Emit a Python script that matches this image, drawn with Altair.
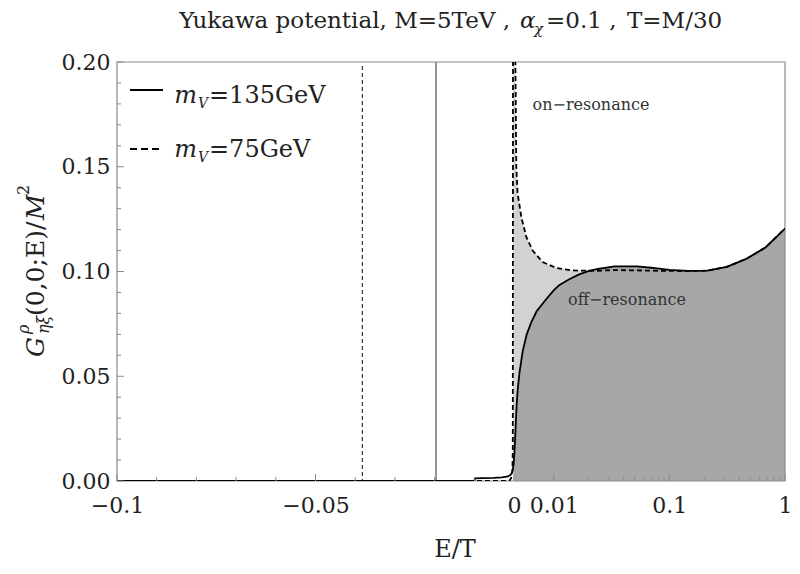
import math
import altair as alt
import pandas as pd

# ---------------- data ----------------
# m_V = 135 GeV (solid curve): E/T and G/M^2
solid_E = [-0.1, -0.0100, -0.0098, -0.008, -0.005, -0.003, -0.0015, -0.0008, -0.0004, -0.0001,
           0.0, 0.0001, 0.0004, 0.00066, 0.0009, 0.0014, 0.0022, 0.0032, 0.0044, 0.0057, 0.0082, 0.0100,
           0.01115, 0.01352, 0.0164, 0.0202, 0.0241, 0.0335, 0.0522, 0.0697, 0.1, 0.145, 0.2135,
           0.314, 0.462, 0.679, 1.0]
solid_G = [0.0, 0.0, 0.0013, 0.0014, 0.0015, 0.0017, 0.0022, 0.003, 0.0045, 0.008,
           0.011, 0.013, 0.025, 0.036, 0.043, 0.052, 0.062, 0.070, 0.076, 0.081, 0.087, 0.091,
           0.0935, 0.0962, 0.0985, 0.1003, 0.1012, 0.1024, 0.1024, 0.1018, 0.1008, 0.1003, 0.1004,
           0.1022, 0.1060, 0.1115, 0.1205]

# m_V = 75 GeV (dashed curve)
dashed_E = [-0.1, -0.0012, -0.0007, -0.0004, -0.0003, -0.00022, 0.0002, 0.00035, 0.00058, 0.0009,
            0.00184, 0.0031, 0.0047, 0.0072, 0.01052, 0.01433, 0.0228, 0.0335, 0.0522, 0.1, 0.145,
            0.2135, 0.314, 0.462, 0.679, 1.0]
dashed_G = [0.0, 0.0, 0.0015, 0.005, 0.015, 0.35, 0.35, 0.2, 0.150, 0.1375,
            0.126, 0.1165, 0.110, 0.1045, 0.1017, 0.1005, 0.1003, 0.1007, 0.1005, 0.1003, 0.1002,
            0.1004, 0.1022, 0.1060, 0.1115, 0.1205]

# bound-state positions (vertical lines)
bound_solid_E = [-0.01965]
bound_dashed_E = [-0.0382]

# ticks
y_major = [0.0, 0.05, 0.10, 0.15, 0.20]
y_minor = [0.01, 0.02, 0.03, 0.04, 0.06, 0.07, 0.08, 0.09, 0.11, 0.12, 0.13, 0.14,
           0.16, 0.17, 0.18, 0.19]
x_major = [-0.1, -0.05, 0.0, 0.01, 0.1, 1.0]
x_major_labels = ["\u22120.1", "\u22120.05", "0", "0.01", "0.1", "1"]
x_minor = [-0.09, -0.08, -0.07, -0.06, -0.04, -0.03, -0.02, -0.01,
           0.02, 0.03, 0.04, 0.05, 0.06, 0.07, 0.08, 0.09,
           0.2, 0.3, 0.4, 0.5, 0.6, 0.7, 0.8, 0.9]

# ---------------- mixed linear (E<=0.01) / log (E>0.01) axis ----------------
W, H = 668, 419
U_MAX = W / 3970.0 - 0.1          # same pixels per unit as the linear part of the reference
DEC = (U_MAX - 0.01) / 2.0         # width of one decade on the log part


def to_u(e):
    return e if e <= 0.01 else 0.01 + DEC * math.log10(e / 0.01)


U_EXPR = f"datum.E <= 0.01 ? datum.E : 0.01 + {DEC:.7f} * log(datum.E / 0.01) / LN10"

FONT = "DejaVu Serif"
xs = alt.Scale(domain=[-0.1, U_MAX], nice=False, zero=False)
ys = alt.Scale(domain=[0, 0.2], nice=False, zero=False)

xu_major = [to_u(v) for v in x_major]
label_expr = ""
for uval, lab in zip(xu_major, x_major_labels):
    label_expr += f"abs(datum.value - ({uval:.6f})) < 0.0005 ? '{lab}' : "
label_expr += "''"

x_axis = alt.Axis(values=xu_major, labelExpr=label_expr, title="", ticks=False, tickSize=0,
                  domain=False, grid=False, labelFont=FONT, labelFontSize=22, labelColor="#222",
                  labelPadding=14, labelFlush=False, labelOverlap=False, labelBound=False)
y_axis = alt.Axis(values=y_major, format=".2f", title="", ticks=False, tickSize=0,
                  domain=False, grid=False, labelFont=FONT, labelFontSize=22, labelColor="#222",
                  labelPadding=7, labelOverlap=False, labelFlush=False)

solid_df = pd.DataFrame({"E": solid_E, "G": solid_G})
dashed_df = pd.DataFrame({"E": dashed_E, "G": dashed_G})
one = pd.DataFrame({"k": [0]})

Xn = alt.X("u:Q", scale=xs, axis=x_axis)
Yn = alt.Y("G:Q", scale=ys, axis=y_axis)

light = (alt.Chart(dashed_df).transform_filter("datum.E >= -0.00022").transform_calculate(u=U_EXPR)
         .mark_area(color="#d2d2d2", opacity=1, clip=True).encode(x=Xn, y=Yn))
dark = (alt.Chart(solid_df).transform_filter("datum.E >= 0").transform_calculate(u=U_EXPR)
        .mark_area(color="#a7a7a7", opacity=1, clip=True).encode(x=Xn, y=Yn))

vl_solid = (alt.Chart(pd.DataFrame({"E": bound_solid_E})).transform_calculate(u=U_EXPR)
            .mark_rule(color="#7a7a7a", strokeWidth=1.6)
            .encode(x=Xn, y=alt.value(0), y2=alt.value(H)))
vl_dashed = (alt.Chart(pd.DataFrame({"E": bound_dashed_E})).transform_calculate(u=U_EXPR)
             .mark_rule(color="#333", strokeWidth=1.2, strokeDash=[4, 3])
             .encode(x=Xn, y=alt.value(4), y2=alt.value(H)))

frame = (alt.Chart(one).mark_rect(fill="transparent", stroke="#8c8c8c", strokeWidth=1.2)
         .encode(x=alt.value(0), x2=alt.value(W), y=alt.value(0), y2=alt.value(H)))

line_solid = (alt.Chart(solid_df).transform_calculate(u=U_EXPR)
              .mark_line(color="black", strokeWidth=1.8, clip=True).encode(x=Xn, y=Yn))
line_dashed = (alt.Chart(dashed_df).transform_calculate(u=U_EXPR)
               .mark_line(color="black", strokeWidth=1.8, strokeDash=[5, 3], clip=True)
               .encode(x=Xn, y=Yn))

TICK = "#8c8c8c"
ytk_major = (alt.Chart(pd.DataFrame({"G": y_major})).mark_rule(color=TICK)
             .encode(y=Yn, x=alt.value(0), x2=alt.value(7)))
ytk_minor = (alt.Chart(pd.DataFrame({"G": y_minor})).mark_rule(color=TICK)
             .encode(y=Yn, x=alt.value(0), x2=alt.value(4)))
xtk_major = (alt.Chart(pd.DataFrame({"E": x_major})).transform_calculate(u=U_EXPR)
             .mark_rule(color=TICK).encode(x=Xn, y=alt.value(H), y2=alt.value(H - 7)))
xtk_minor = (alt.Chart(pd.DataFrame({"E": x_minor})).transform_calculate(u=U_EXPR)
             .mark_rule(color=TICK).encode(x=Xn, y=alt.value(H), y2=alt.value(H - 4)))


def txt(text, x, y, size, italic=False, angle=0, align="left", baseline="alphabetic", color="#222"):
    return (alt.Chart(one)
            .mark_text(text=text, font=FONT, fontSize=size,
                       fontStyle="italic" if italic else "normal", angle=angle,
                       align=align, baseline=baseline, color=color)
            .encode(x=alt.value(x), y=alt.value(y)))


# legend (inside the plot, top-left)
leg_line1 = (alt.Chart(one).mark_rule(color="black", strokeWidth=2)
             .encode(x=alt.value(13), x2=alt.value(46), y=alt.value(28)))
leg_line2 = (alt.Chart(one).mark_rule(color="black", strokeWidth=2, strokeDash=[7, 4])
             .encode(x=alt.value(13), x2=alt.value(43), y=alt.value(87)))
legend = [leg_line1, leg_line2,
          txt("m", 80, 41, 24, italic=True, align="right"),
          txt("V", 81, 46, 14, italic=True),
          txt("=135GeV", 92, 41, 24),
          txt("m", 80, 95, 24, italic=True, align="right"),
          txt("V", 81, 100, 14, italic=True),
          txt("=75GeV", 92, 95, 24)]

# title
title = [txt("Yukawa potential, M=5TeV ,", 393, -34, 23, align="right"),
         txt("\u03b1", 403, -34, 23, italic=True),
         txt("\u03c7", 417, -28, 15, italic=True),
         txt("=0.1 ,", 429, -34, 23),
         txt("T=M/30", 510, -34, 23)]

# y title (rotated pieces)
ytitle = [txt("G", -73, 295, 25, italic=True, angle=270),
          txt("\u03c1", -88, 272, 16, italic=True, angle=270),
          txt("\u03b7\u03be", -68, 272, 16, italic=True, angle=270),
          txt("(0,0;E)/", -73, 254, 25, angle=270),
          txt("M", -73, 158, 25, italic=True, angle=270),
          txt("2", -88, 133, 16, angle=270)]

xtitle = [txt("E/T", 338, 495, 24, align="center")]

annot = [txt("on\u2212resonance", 474, 43, 16, align="center", baseline="middle", color="#333"),
         txt("off\u2212resonance", 510, 238, 16, align="center", baseline="middle", color="#333")]

layers = [light, dark, vl_solid, vl_dashed, frame, line_solid, line_dashed,
          ytk_major, ytk_minor, xtk_major, xtk_minor] + legend + title + ytitle + xtitle + annot

chart = (alt.layer(*layers)
         .properties(width=W, height=H, autosize=alt.AutoSizeParams(type="none"),
                     padding={"left": 109, "top": 54, "right": 7, "bottom": 85})
         .configure_view(strokeWidth=0))

chart.save("out.html", embed_options={"renderer": "svg", "actions": False})
